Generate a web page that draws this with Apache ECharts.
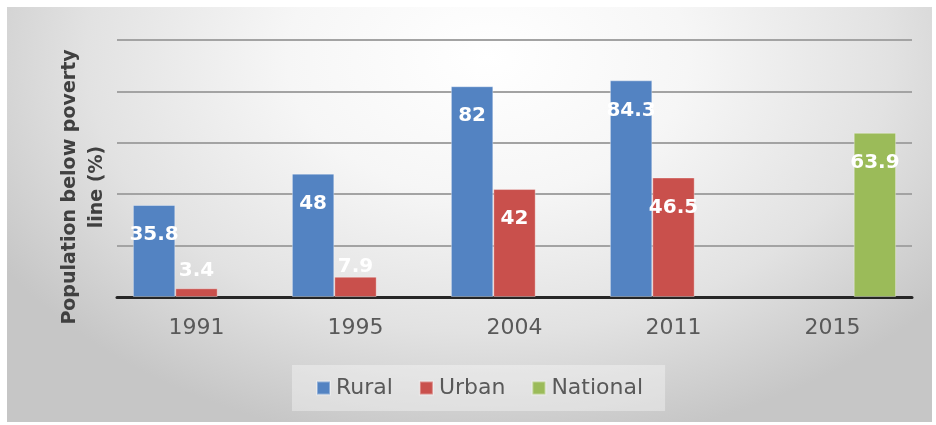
<!DOCTYPE html>
<html>
<head>
<meta charset="utf-8">
<script src="https://cdn.jsdelivr.net/npm/echarts@6/dist/echarts.min.js"></script>
<style>
  html, body { margin: 0; padding: 0; background: #ffffff; }
  #panel {
    position: absolute; left: 7px; top: 7px; width: 925px; height: 415px;
    background: radial-gradient(ellipse 62% 95% at 52% 12%, #ffffff 0%, #f6f6f6 35%, #e2e2e2 70%, #c6c6c6 100%);
  }
  #chart { position: absolute; left: 0; top: 0; width: 936px; height: 425px; }
</style>
</head>
<body>
<div id="panel"></div>
<div id="chart"></div>
<script>
const categories = ['1991', '1995', '2004', '2011', '2015'];
const rural = [35.8, 48, 82, 84.3, null];
const urban = [3.4, 7.9, 42, 46.5, null];
const national = [null, null, null, null, 63.9];
const yAxisTitle = 'Population below poverty\nline (%)';

const colors = { rural: '#5383c2', urban: '#c9504c', national: '#9bbb59' };

function labelledData(values) {
  return values.map(function (v) {
    if (v === null) return '-';
    if (v < 5) return { value: v, label: { position: 'top', distance: 7 } };
    if (v < 10) return { value: v, label: { position: 'top', distance: 0 } };
    return v;
  });
}

function barSeries(name, values, color) {
  return {
    name: name,
    type: 'bar',
    barGap: 0,
    barCategoryGap: '20%',
    data: labelledData(values),
    itemStyle: { color: color, borderColor: 'rgba(255,255,255,0.35)', borderWidth: 1 },
    label: {
      show: true,
      position: 'insideTop',
      distance: 20,
      color: '#ffffff',
      fontFamily: 'DejaVu Sans',
      fontWeight: 'bold',
      fontSize: 20
    }
  };
}

const chart = echarts.init(document.getElementById('chart'), null, { renderer: 'canvas' });
chart.setOption({
  backgroundColor: 'transparent',
  animation: false,
  grid: { left: 117, right: 24, top: 40, bottom: 128, containLabel: false },
  legend: {
    data: ['Rural', 'Urban', 'National'],
    left: 292,
    top: 365,
    icon: 'rect',
    itemWidth: 13,
    itemHeight: 13,
    itemGap: 26,
    padding: [12, 22, 12, 24],
    backgroundColor: 'rgba(255,255,255,0.35)',
    textStyle: { fontFamily: 'DejaVu Sans', fontSize: 22, color: '#595959', padding: [0, 0, 0, 1] }
  },
  xAxis: {
    type: 'category',
    data: categories,
    axisTick: { show: false },
    axisLine: { lineStyle: { color: '#262626', width: 3 } },
    axisLabel: { margin: 20, fontFamily: 'DejaVu Sans', fontSize: 22, color: '#595959' }
  },
  yAxis: {
    type: 'value',
    min: 0,
    max: 100,
    interval: 20,
    axisLabel: { show: false },
    axisTick: { show: false },
    axisLine: { show: false },
    splitLine: { lineStyle: { color: '#a3a3a3', width: 2 } }
  },
  graphic: [{
    type: 'text',
    x: 84,
    y: 187,
    rotation: Math.PI / 2,
    style: {
      text: yAxisTitle,
      x: 0, y: 0,
      textAlign: 'center',
      textVerticalAlign: 'middle',
      fontFamily: 'DejaVu Sans',
      fontWeight: 'bold',
      fontSize: 19,
      lineHeight: 27,
      fill: '#404040'
    }
  }],
  series: [
    barSeries('Rural', rural, colors.rural),
    barSeries('Urban', urban, colors.urban),
    barSeries('National', national, colors.national)
  ]
});
</script>
</body>
</html>
